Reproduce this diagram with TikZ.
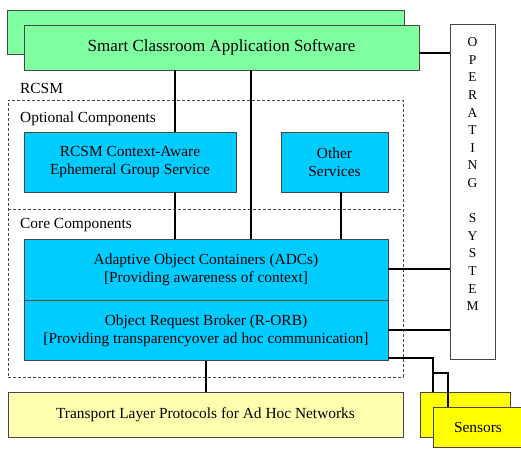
\documentclass[tikz,border=0pt]{standalone}
\usepackage{fontspec}
\setmainfont{Liberation Serif}
\usepackage{tikz}
\usetikzlibrary{positioning}
\definecolor{verde}{RGB}{128,255,160}
\definecolor{celeste}{RGB}{0,204,255}
\definecolor{crema}{RGB}{255,255,175}
\definecolor{amarillo}{RGB}{255,255,0}
\definecolor{borde}{RGB}{70,70,70}
\tikzset{
  caja/.style={draw=borde, line width=0.9pt, inner sep=0pt, align=center, font=\fontsize{15.4}{18}\selectfont},
  linea/.style={line width=1.8pt},
  rotulo/.style={anchor=west, inner sep=0pt, font=\fontsize{15.4}{18}\selectfont},
  punteada/.style={draw=borde, line width=0.8pt, dash pattern=on 3pt off 2pt},
}

\begin{document}
\begin{tikzpicture}[x=10pt,y=-10pt]
        \useasboundingbox (0,0) rectangle (52.1,44.9);
        % Aplicación
        \node[caja, fill=verde, minimum width=397pt, minimum height=44pt] (fondo) at (20.55,3.2) {};
        \node[caja, fill=verde, minimum width=395pt, minimum height=45pt, font=\fontsize{17}{18}\selectfont] (aplicacion) at (22.15,4.75) {Smart Classroom Application Software};
        % Sistema operativo
        \node[caja, minimum width=45pt, minimum height=335pt] (so) at (47.25,19.15) {};
        \node[anchor=north, inner sep=0pt, align=center, font=\fontsize{13.5}{17.6}\selectfont] (sotexto) at (47.25,3.75) {O\\P\\E\\R\\A\\T\\I\\N\\G\\[17.6pt]S\\Y\\S\\T\\E\\M};
        % RCSM
        \node[rotulo] (rcsmtexto) at (2.0,8.8) {RCSM};
        \node[punteada, minimum width=395pt, minimum height=277pt] (rcsm) at (20.55,23.85) {};
        \coordinate (corte) at (0,20.9);
        \draw[punteada] (rcsm.west |- corte) -- (rcsm.east |- corte);
        % Componentes opcionales
        \node[rotulo] (opcional) at (2.0,11.9) {Optional Components};
        \node[caja, fill=celeste, minimum width=212pt, minimum height=60pt] (contexto) at (13.0,16.2) {RCSM Context-Aware\\Ephemeral Group Service};
        \node[caja, fill=celeste, minimum width=107pt, minimum height=60pt] (otros) at (33.45,16.2) {Other\\Services};
        % Componentes del núcleo
        \node[rotulo] (nucleo) at (2.0,22.5) {Core Components};
        \node[caja, fill=celeste, minimum width=364pt, minimum height=61pt] (adc) at (20.6,26.95) {Adaptive Object Containers (ADCs)\\{}[Providing awareness of context]};
        \node[caja, fill=celeste, minimum width=364pt, minimum height=60pt, below=0pt of adc] (orb) {Object Request Broker (R-ORB)\\{}[Providing transparencyover ad hoc communication]};
        % Transporte y sensores
        \node[caja, fill=crema, minimum width=395pt, minimum height=45pt] (transporte) at (20.55,41.45) {Transport Layer Protocols for Ad Hoc Networks};
        \node[caja, fill=amarillo, minimum width=90pt, minimum height=45pt] (sensores1) at (46.5,41.45) {};
        \node[caja, fill=amarillo, minimum width=90pt, minimum height=40pt] (sensores) at (47.8,42.7) {Sensors};
        % Conexiones
        \coordinate (x1) at (17.5,0);
        \coordinate (x2) at (25.1,0);
        \coordinate (x3) at (34.1,0);
        \draw[linea] (aplicacion.south -| x1) -- (contexto.north -| x1);
        \draw[linea] (contexto.south -| x1) -- (adc.north -| x1);
        \draw[linea] (aplicacion.south -| x2) -- (adc.north -| x2);
        \draw[linea] (otros.south -| x3) -- (adc.north -| x3);
        \draw[linea] ([yshift=-5.5pt]aplicacion.east) -- ([yshift=-5.5pt]aplicacion.east -| so.west);
        \draw[linea] ([yshift=0.5pt]adc.east) -- ([yshift=0.5pt]adc.east -| so.west);
        \draw[linea] ([yshift=0.9pt]orb.east) -- ([yshift=0.9pt]orb.east -| so.west);
        \draw[linea] (orb.south) -- (orb.south |- transporte.north);
        \coordinate (ramal) at (43.3,37.3);
        \coordinate (codo) at (44.8,37.3);
        \draw[linea] ([yshift=3pt]orb.south east) -| (ramal) -- (ramal |- sensores1.north);
        \draw[linea] (ramal) -- (codo) -- (codo |- sensores.north);
    \end{tikzpicture}
\end{document}
